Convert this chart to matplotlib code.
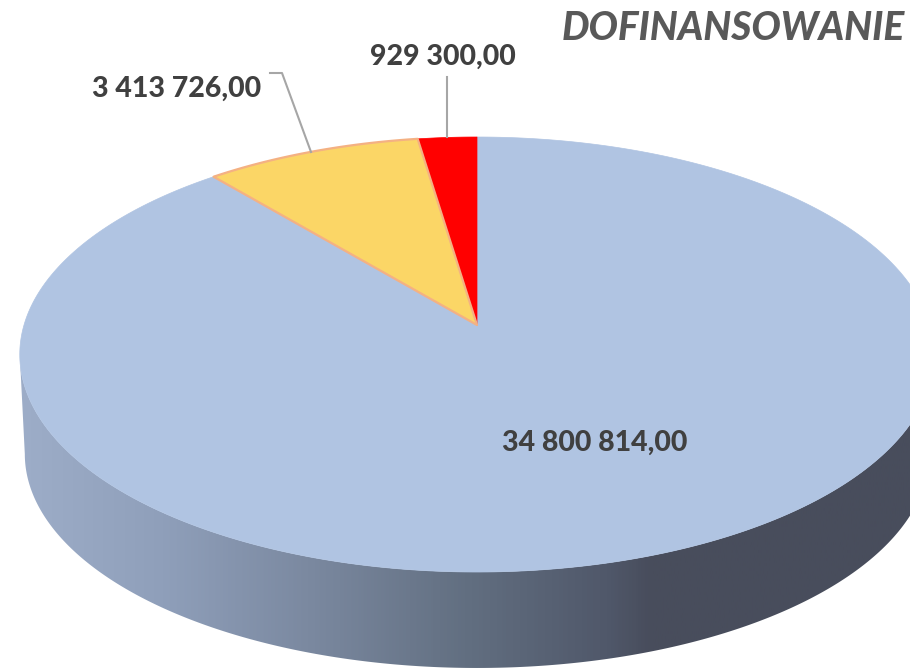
import numpy as np
from matplotlib import pyplot as plt
from matplotlib.colors import LinearSegmentedColormap
from matplotlib.patches import Polygon

title = "DOFINANSOWANIE"
labels = ["34 800 814,00", "3 413 726,00", "929 300,00"]
values = [34800814, 3413726, 929300]
colors = ["#b0c4e2", "#fbd666", "#ff0000"]
edges = ["#b0c4e2", "#f4b183", "#ff0000"]

# perspective of the disc, fitted on the picture
K = 0.1357
TOP = dict(x0=477, y0=325, a=453, b=213.5)
BOTTOM = dict(x0=477, y0=425, a=448, b=210)


def project(theta, r, x0, y0, a, b):
    # theta is clockwise from 12 o'clock, radians
    u = r * np.sin(theta)
    v = r * np.cos(theta)
    d = 1 + K * v
    return x0 + a * u / d, y0 - b * v / d


def rim(start, stop, plane, n=400):
    x, y = project(np.linspace(start, stop, n), 1.0, **plane)
    return np.column_stack([x, y])


fig = plt.figure(figsize=(9.1, 6.69), dpi=100)
ax = fig.add_axes([0, 0, 1, 1])
ax.set_xlim(0, 910)
ax.set_ylim(669, 0)
ax.axis("off")

# side wall: gradient clipped to the area between the two rims
turn = np.pi / 2 + np.arcsin(K)
end = 2 * np.pi - turn
wall = np.vstack([rim(turn, end, TOP), rim(end, turn, BOTTOM)])
wall_patch = Polygon(wall, closed=True, facecolor="none", edgecolor="none")
ax.add_patch(wall_patch)
ramp = LinearSegmentedColormap.from_list("wall", [
    (0.0, "#9dadc8"), (0.16, "#8f9fba"), (0.33, "#7a889f"),
    (0.5, "#626f81"), (0.66, "#50586a"), (0.71, "#484d5c"), (1.0, "#484d5c")])
img = ax.imshow(np.linspace(0, 1, 500).reshape(1, -1), cmap=ramp, extent=(20, 910, 669, 0),
                aspect="auto", zorder=1)
img.set_clip_path(wall_patch)
ax.set_xlim(0, 910)
ax.set_ylim(669, 0)

# top of the pie, slices run clockwise from the big one ending at 12 o'clock
fracs = np.array(values) / sum(values)
stops = np.cumsum(fracs[::-1])[::-1]
for i in range(len(values)):
    t1 = -2 * np.pi * stops[i]
    t2 = t1 + 2 * np.pi * fracs[i]
    top_pts = rim(t1, t2, TOP)
    pts = np.vstack([[TOP["x0"], TOP["y0"]], top_pts])
    lw = 1.6 if i == 1 else 0.5
    ax.add_patch(Polygon(pts, closed=True, facecolor=colors[i], edgecolor=edges[i],
                         lw=lw, joinstyle="round", zorder=2 + (i == 1)))

# leader lines
ax.plot([270, 282, 311], [73, 73, 152], color="#a6a6a6", lw=1.5, zorder=4)
ax.plot([447, 447], [77, 137], color="#a6a6a6", lw=1.5, zorder=4)

font = dict(family="Lato", fontweight=900, color="#404040", fontsize=20.5, zorder=5)
ax.text(595, 443, labels[0], ha="center", va="center", **font)
ax.text(177, 89, labels[1], ha="center", va="center", **font)
ax.text(443, 57, labels[2], ha="center", va="center", **font)
ax.text(905, 29, title, ha="right", va="center", family="Lato", fontweight=900,
        fontstyle="italic", color="#595959", fontsize=28, zorder=5)

fig.savefig("out.png", dpi=100)
